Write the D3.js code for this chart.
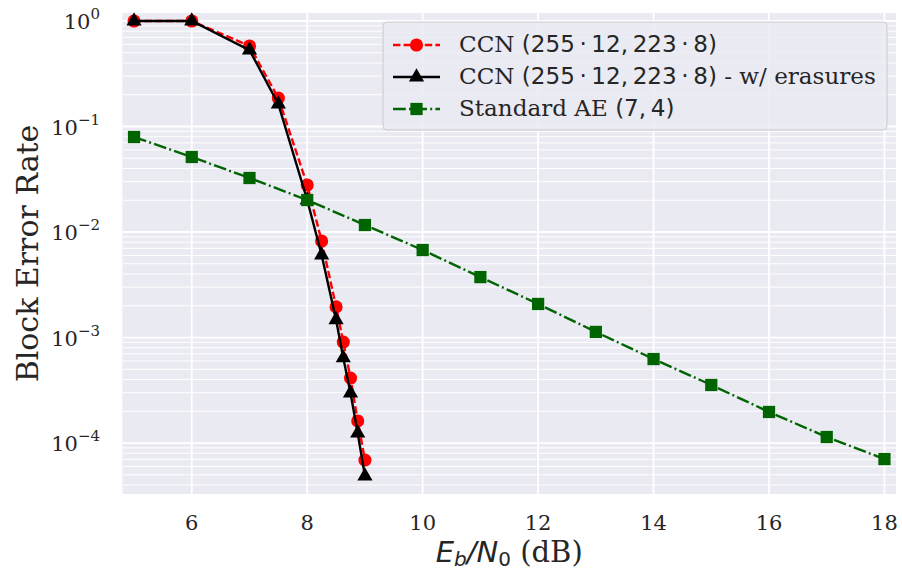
<!DOCTYPE html>
<html><head><meta charset="utf-8">
<script src="https://cdn.jsdelivr.net/npm/d3@7"></script>
<style>body{margin:0;background:#fff}</style>
</head><body>
<svg id="c" width="902" height="572"></svg>
<script>
// ---- data ----
const ebn0CCN = [5, 6, 7, 7.5, 8, 8.25, 8.5, 8.625, 8.75, 8.875, 9];
const blerCCN = [1.0, 1.0, 0.58, 0.186, 0.0279, 0.00822, 0.00195, 0.000906, 0.000413, 0.000162, 6.9e-5];
const blerCCNErasures = [1.0, 1.0, 0.53, 0.163, 0.0201, 0.00605, 0.00147, 0.00064, 0.000298, 0.000124, 4.87e-5];
const ebn0AE = [5, 6, 7, 8, 9, 10, 11, 12, 13, 14, 15, 16, 17, 18];
const blerAE = [0.0795, 0.0514, 0.0325, 0.0201, 0.01165, 0.00675, 0.00374, 0.00208, 0.00113, 0.000625, 0.000355, 0.000197, 0.000114, 7.05e-5];
const xTicks = [6, 8, 10, 12, 14, 16, 18];
const yTickExps = [0, -1, -2, -3, -4];
const legendLabels = [
  [["CCN ", "serif"], ["(255\u2009·\u200912,\u2009223\u2009·\u20098)", "sans"]],
  [["CCN ", "serif"], ["(255\u2009·\u200912,\u2009223\u2009·\u20098)", "sans"], [" - w/ erasures", "serif"]],
  [["Standard AE ", "serif"], ["(7,\u20094)", "sans"]]
];

const svg = d3.select("#c");
const L = 122.5, R = 896, T = 13, B = 494;
const x = d3.scaleLinear().domain([4.8, 18.2]).range([L, R]);
const y = d3.scaleLog().domain([Math.pow(10, -4.483), Math.pow(10, 0.0758)]).range([B, T]);
const SERIF = "'DejaVu Serif', serif", SANS = "'DejaVu Sans', sans-serif";

// background
svg.append("rect").attr("x", L).attr("y", T).attr("width", R - L).attr("height", B - T).attr("fill", "#eaeaf2");

const grid = svg.append("g");
const minor = [];
for (let e = -5; e <= 0; e++) for (let m = 2; m <= 9; m++) {
  const v = m * Math.pow(10, e);
  if (v >= y.domain()[0] && v <= y.domain()[1]) minor.push(v);
}
grid.selectAll(".mn").data(minor).join("line")
  .attr("x1", L).attr("x2", R).attr("y1", d => y(d)).attr("y2", d => y(d))
  .attr("stroke", "#fff").attr("stroke-width", 1);
grid.selectAll(".mj").data(yTickExps).join("line")
  .attr("x1", L).attr("x2", R).attr("y1", d => y(Math.pow(10, d))).attr("y2", d => y(Math.pow(10, d)))
  .attr("stroke", "#fff").attr("stroke-width", 1.8);
grid.selectAll(".vx").data(xTicks).join("line")
  .attr("x1", d => x(d)).attr("x2", d => x(d)).attr("y1", T).attr("y2", B)
  .attr("stroke", "#fff").attr("stroke-width", 1.8);

// x tick labels
svg.append("g").selectAll("text").data(xTicks).join("text")
  .attr("x", d => x(d)).attr("y", 530).attr("text-anchor", "middle")
  .attr("font-family", SERIF).attr("font-size", 21).attr("fill", "#262626")
  .text(d => d);

// y tick labels
const yt = svg.append("g").selectAll("text").data(yTickExps).join("text")
  .attr("x", 100).attr("y", d => y(Math.pow(10, d)) + 8).attr("text-anchor", "end")
  .attr("font-family", SERIF).attr("font-size", 21).attr("fill", "#262626");
yt.append("tspan").text("10");
yt.append("tspan").attr("dy", -10).attr("font-size", 15).text(d => d === 0 ? "0" : "\u2212" + (-d));

// axis labels
svg.append("text").attr("transform", `translate(38,${(T + B) / 2}) rotate(-90)`)
  .attr("text-anchor", "middle").attr("font-family", SERIF).attr("font-size", 30).attr("fill", "#262626")
  .text("Block Error Rate");

const xl = svg.append("text").attr("x", (L + R) / 2).attr("y", 562).attr("text-anchor", "middle")
  .attr("font-size", 29).attr("fill", "#262626");
xl.append("tspan").attr("font-family", SANS).attr("font-style", "italic").text("E");
xl.append("tspan").attr("font-family", SANS).attr("font-style", "italic").attr("font-size", 20).attr("dy", 4).text("b");
xl.append("tspan").attr("font-family", SANS).attr("font-style", "italic").attr("dy", -4).text("/N");
xl.append("tspan").attr("font-family", SANS).attr("font-size", 20).attr("dy", 4).text("0");
xl.append("tspan").attr("font-family", SERIF).attr("dy", -4).text(" (dB)");

// series
const series = [
  { xs: ebn0CCN, ys: blerCCN, color: "#ff0000", dash: "7.4,3.2", marker: "circle" },
  { xs: ebn0CCN, ys: blerCCNErasures, color: "#000000", dash: null, marker: "triangle" },
  { xs: ebn0AE, ys: blerAE, color: "#006400", dash: "12.8,3.2,2,3.2", marker: "square" }
];
const line = d3.line().x(d => x(d[0])).y(d => y(d[1]));
const sym = { circle: d3.symbol(d3.symbolCircle, 135), triangle: d3.symbol(d3.symbolTriangle, 100), square: d3.symbol(d3.symbolSquare, 150) };
const plot = svg.append("g");
series.forEach(s => {
  const pts = s.xs.map((v, i) => [v, s.ys[i]]);
  plot.append("path").attr("d", line(pts)).attr("fill", "none").attr("stroke", s.color)
    .attr("stroke-width", 2.4).attr("stroke-dasharray", s.dash);
  plot.selectAll(null).data(pts).join("path")
    .attr("d", sym[s.marker]())
    .attr("transform", d => `translate(${x(d[0])},${y(d[1])})`)
    .attr("fill", s.color);
});

// legend
const lg = svg.append("g");
lg.append("rect").attr("x", 383).attr("y", 22).attr("width", 504).attr("height", 108).attr("rx", 4)
  .attr("fill", "#eaeaf2").attr("fill-opacity", 0.85).attr("stroke", "#cccccc").attr("stroke-width", 1);
const rowY = [45, 77, 109];
const texts = [];
series.forEach((s, i) => {
  lg.append("line").attr("x1", 393).attr("x2", 440).attr("y1", rowY[i]).attr("y2", rowY[i])
    .attr("stroke", s.color).attr("stroke-width", 2.6).attr("stroke-dasharray", s.dash);
  lg.append("path").attr("d", sym[s.marker]()).attr("transform", `translate(416.5,${rowY[i]})`).attr("fill", s.color);
  const t = lg.append("text").attr("x", 459).attr("y", rowY[i] + 7).attr("font-size", 21).attr("fill", "#262626");
  legendLabels[i].forEach(p => t.append("tspan").attr("font-family", p[1] === "sans" ? SANS : SERIF).text(p[0]));
  texts.push(t);
});
// fit legend text width to the reference (longest row spans ~417px)
const w = texts[1].node().getComputedTextLength();
const fs = Math.min(24, 21 * 417 / w);
texts.forEach(t => t.attr("font-size", fs));
</script>
</body></html>
